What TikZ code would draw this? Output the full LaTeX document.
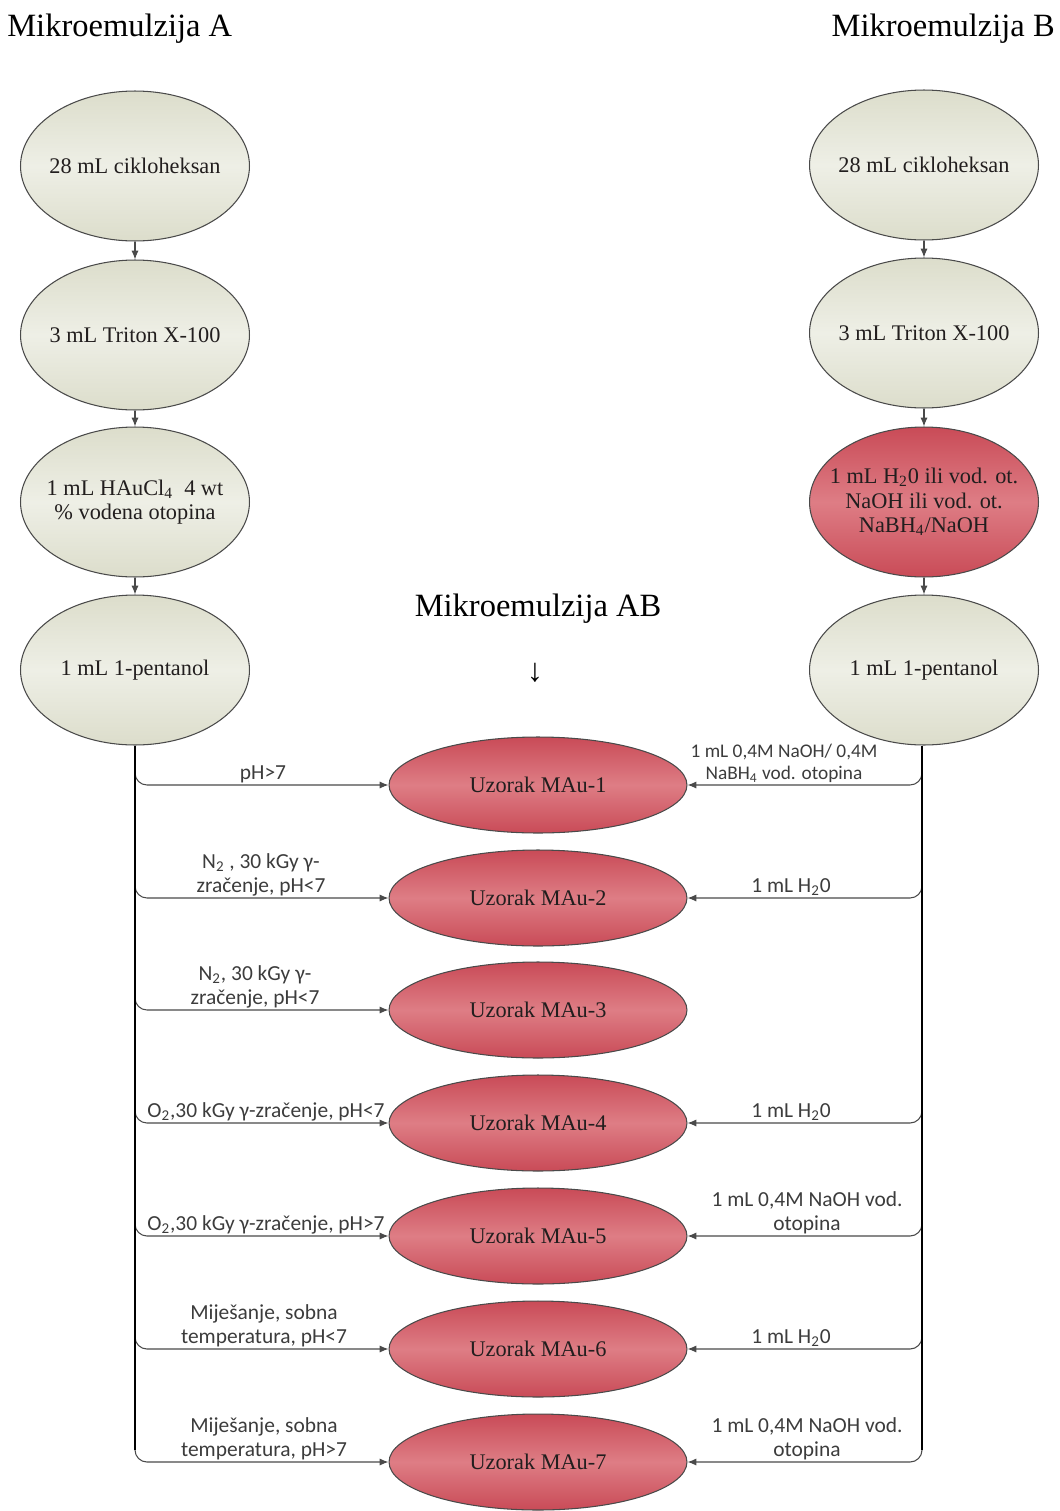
\documentclass[tikz,border=0pt]{standalone}
\usepackage{fontspec}
\setmainfont{Liberation Serif}
\newfontfamily\labfont{Carlito}
\usetikzlibrary{arrows.meta,shapes.geometric}
\definecolor{beigeD}{HTML}{DCDDCB}
\definecolor{beigeL}{HTML}{EEEFE6}
\definecolor{redD}{HTML}{C94B57}
\definecolor{redL}{HTML}{DE7D85}
\definecolor{edge}{HTML}{4A4A4A}
\definecolor{ink}{HTML}{221E1E}
\definecolor{labink}{HTML}{3C3C3C}
\begin{document}
\begin{tikzpicture}[x=0.02cm,y=-0.02cm,
  colbox/.style={ellipse, draw=edge, line width=0.6pt, minimum width=4.58cm, minimum height=3.0cm, inner sep=0pt,
    top color=beigeD, bottom color=beigeD, middle color=beigeL},
  redbox/.style={colbox, top color=redD, bottom color=redD, middle color=redL},
  samplebox/.style={ellipse, draw=edge, line width=0.6pt, minimum width=5.96cm, minimum height=1.92cm, inner sep=0pt,
    top color=redD, bottom color=redD, middle color=redL},
  etext/.style={align=center, inner sep=0pt, text=ink, font=\fontsize{12.7}{14}\selectfont},
  titletext/.style={inner sep=0pt, text=black, font=\fontsize{18.5}{22}\selectfont},
  lab/.style={align=center, anchor=south, inner sep=0pt, text=labink, font=\labfont\fontsize{12.2}{13.6}\selectfont},
  smalllab/.style={lab, font=\labfont\fontsize{11}{12.8}\selectfont},
  arr/.style={draw=edge, line width=0.6pt, -{Latex[length=5pt,width=4pt]}},
  trunk/.style={draw=black, line width=0.8pt}
]
\useasboundingbox (0,0) rectangle (1059,1511);

% titles
\node[titletext, anchor=base west] (tA) at (7,36) {Mikroemulzija A};
\node[titletext, anchor=base east] (tB) at (1055,36) {Mikroemulzija B};
\node[titletext, anchor=base] (tAB) at (538,616) {Mikroemulzija AB};
\node[titletext] (dn) at (535,673) {↓};

% left column
\node[colbox] (a1) at (135,166) {};
\node[colbox] (a2) at (135,335) {};
\node[colbox] (a3) at (135,502) {};
\node[colbox] (a4) at (135,670) {};
\node[etext] at (a1) {28 mL cikloheksan};
\node[etext] at (a2) {3 mL Triton X-100};
\node[etext] at (a3) {1 mL HAuCl\textsubscript{4}\ \ 4 wt\\\% vodena otopina};
\node[etext] at (a4) {1 mL 1-pentanol};
\draw[arr] (a1) -- (a2);
\draw[arr] (a2) -- (a3);
\draw[arr] (a3) -- (a4);

% right column
\node[colbox] (b1) at (924,165) {};
\node[colbox] (b2) at (924,333) {};
\node[redbox] (b3) at (924,502) {};
\node[colbox] (b4) at (924,670) {};
\node[etext] at (b1) {28 mL cikloheksan};
\node[etext] at (b2) {3 mL Triton X-100};
\node[etext] at (b3) {1 mL H\textsubscript{2}0 ili vod. ot.\\NaOH ili vod. ot.\\NaBH\textsubscript{4}/NaOH};
\node[etext] at (b4) {1 mL 1-pentanol};
\draw[arr] (b1) -- (b2);
\draw[arr] (b2) -- (b3);
\draw[arr] (b3) -- (b4);

% samples
\foreach \i/\y in {1/785,2/898,3/1010,4/1123,5/1236,6/1349,7/1462}{
  \node[samplebox] (s\i) at (538,\y) {};
  \node[etext] at (s\i) {Uzorak MAu-\i};
  \coordinate (L\i) at (135,\y-12);
  \coordinate (R\i) at (922,\y-12);
  \draw[arr] (L\i) to[out=-90,in=180] ++(12,12) -- (s\i.west);
}
\foreach \i in {1,2,4,5,6,7}{
  \draw[arr] (R\i) to[out=-90,in=0] ++(-12,12) -- (s\i.east);
}
\draw[trunk] (a4.south) -- (L7);
\draw[trunk] (b4.south -| R7) -- (R7);

% left labels
\node[lab] at (263,787) {pH>7\strut};
\node[lab] at (261,900) {N\textsubscript{2} , 30 kGy γ-\\zračenje, pH<7\strut};
\node[lab] at (255,1012) {N\textsubscript{2}, 30 kGy γ-\\zračenje, pH<7\strut};
\node[lab] at (266,1125) {O\textsubscript{2},30 kGy γ-zračenje, pH<7\strut};
\node[lab] at (266,1238) {O\textsubscript{2},30 kGy γ-zračenje, pH>7\strut};
\node[lab] at (264,1351) {Miješanje, sobna\\temperatura, pH<7\strut};
\node[lab] at (264,1464) {Miješanje, sobna\\temperatura, pH>7\strut};

% right labels
\node[smalllab] at (784,787) {1 mL 0,4M NaOH/ 0,4M\\NaBH\textsubscript{4} vod. otopina\strut};
\node[lab] at (791,900) {1 mL H\textsubscript{2}0\strut};
\node[lab] at (791,1125) {1 mL H\textsubscript{2}0\strut};
\node[lab] at (807,1238) {1 mL 0,4M NaOH vod.\\otopina\strut};
\node[lab] at (791,1351) {1 mL H\textsubscript{2}0\strut};
\node[lab] at (807,1464) {1 mL 0,4M NaOH vod.\\otopina\strut};
\end{tikzpicture}
\end{document}
